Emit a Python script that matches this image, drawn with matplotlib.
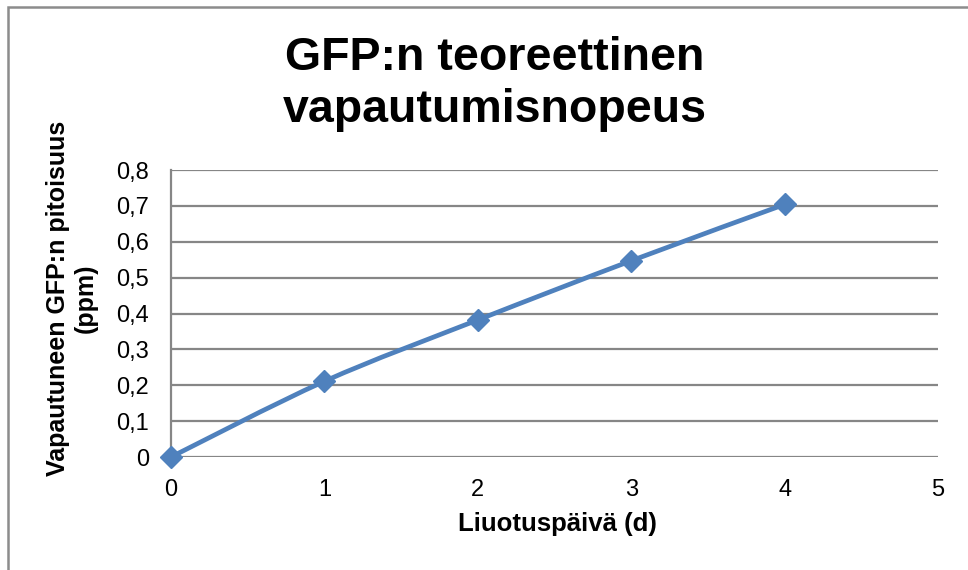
import numpy as np
import matplotlib.pyplot as plt
from matplotlib.path import Path
from matplotlib.patches import PathPatch, Rectangle
from matplotlib.ticker import FuncFormatter, MultipleLocator

plt.rcParams['font.family'] = ['Liberation Sans', 'DejaVu Sans']

# Liuotuspäivät ja vapautuneen GFP:n pitoisuus
paivat = [0, 1, 2, 3, 4]
pitoisuus = [0.0, 0.211, 0.382, 0.547, 0.704]

otsikko = 'GFP:n teoreettinen\nvapautumisnopeus'
x_nimi = 'Liuotuspäivä (d)'
y_nimi = 'Vapautuneen GFP:n pitoisuus\n(ppm)'

sininen = '#4F81BD'
harmaa = '#868686'

fig = plt.figure(figsize=(9.68, 5.7), dpi=100)
ax = fig.add_axes([171/968, 1-457/570, (938-171)/968, (457-170)/570])

ax.set_xlim(0, 5)
ax.set_ylim(0, 0.8)
ax.yaxis.set_major_locator(MultipleLocator(0.1))
ax.xaxis.set_major_locator(MultipleLocator(1))
ax.grid(axis='y', color=harmaa, linewidth=1.6)
ax.set_axisbelow(True)
for s in ['top', 'right', 'bottom']:
    ax.spines[s].set_visible(False)
ax.spines['left'].set_color(harmaa)
ax.spines['left'].set_linewidth(1.6)

def pilkku(v, pos):
    if abs(v) < 1e-9:
        return '0'
    return ('%.1f' % v).replace('.', ',')

ax.yaxis.set_major_formatter(FuncFormatter(pilkku))
ax.xaxis.set_major_formatter(FuncFormatter(lambda v, p: '%d' % round(v)))
ax.tick_params(axis='y', length=0, pad=16, labelsize=17)
ax.tick_params(axis='x', length=0, pad=16, labelsize=17)

# pehmennetty viiva (Catmull-Rom -> Bezier) datapisteiden kautta
x = np.array(paivat, dtype=float)
y = np.array(pitoisuus, dtype=float)
pts = np.column_stack([x, y])
verts = [pts[0]]
codes = [Path.MOVETO]
for i in range(len(pts) - 1):
    p0 = pts[max(i - 1, 0)]
    p1 = pts[i]
    p2 = pts[i + 1]
    p3 = pts[min(i + 2, len(pts) - 1)]
    c1 = p1 + (p2 - p0) / 6
    c2 = p2 - (p3 - p1) / 6
    verts += [c1, c2, p2]
    codes += [Path.CURVE4] * 3
ax.add_patch(PathPatch(Path(verts, codes), facecolor='none', edgecolor=sininen,
                       linewidth=3.4, clip_on=False, zorder=3))
ax.plot(x, y, linestyle='none', marker='D', markersize=11, color=sininen,
        clip_on=False, zorder=4)

fig.text(495/968, 1-84/570, otsikko, ha='center', va='center', fontsize=33.5,
         fontweight='bold', linespacing=1.22)
fig.text(557/968, 1-524/570, x_nimi, ha='center', va='center', fontsize=18.5,
         fontweight='bold')
fig.text(72/968, 1-298/570, y_nimi, ha='center', va='center', fontsize=18,
         fontweight='bold', rotation=90, multialignment='center')

# kaavion reunus
fig.patches.append(Rectangle((8/968, -0.1), 1.2, 1 - 7/570 + 0.1,
                             transform=fig.transFigure, fill=False,
                             edgecolor='#8c8c8c', linewidth=1.8))

plt.savefig('out.png', dpi=100)
